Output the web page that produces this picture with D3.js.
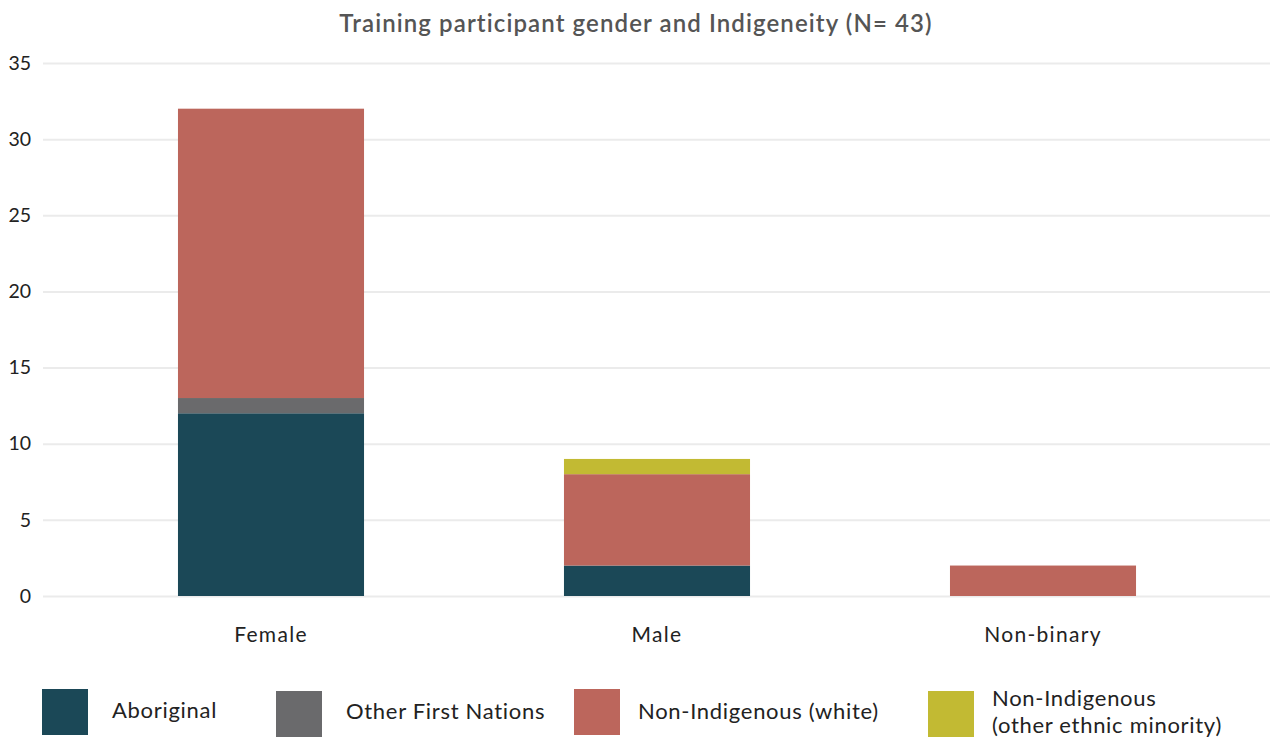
<!DOCTYPE html>
<html><head><meta charset="utf-8">
<script src="https://cdnjs.cloudflare.com/ajax/libs/d3/7.8.5/d3.min.js"></script>
<style>body{margin:0;background:#fff}svg{display:block}text{font-family:Lato,"Noto Sans",sans-serif}</style>
</head><body><svg id="c" width="1273" height="751"></svg>
<script>
const categories = ["Female","Male","Non-binary"];
const seriesNames = ["Aboriginal","Other First Nations","Non-Indigenous (white)","Non-Indigenous (other ethnic minority)"];
const aboriginal = [12,2,0];
const otherFirstNations = [1,0,0];
const nonIndigenousWhite = [19,6,2];
const nonIndigenousOther = [0,1,0];
const yTicks = [0,5,10,15,20,25,30,35];
const colors = ["#1B4857","#6A6A6C","#BC665C","#C2BA33"];
const title = "Training participant gender and Indigeneity (N= 43)";

const svg = d3.select("#c");
const x = d3.scaleBand().domain(categories).range([78,1236]).paddingInner(0.518).paddingOuter(0.259);
const y = d3.scaleLinear().domain([0,35]).range([596,63]);

svg.append("text").attr("x",636).attr("y",32).attr("text-anchor","middle")
  .attr("font-size",24).attr("font-weight",600).attr("letter-spacing",1.1).attr("fill","#555").text(title);

const yAxis = svg.append("g").attr("transform","translate(43,0)")
  .call(d3.axisLeft(y).tickValues(yTicks).tickSize(-1227).tickPadding(12));
yAxis.select(".domain").remove();
yAxis.selectAll(".tick line").attr("stroke","#ebebeb").attr("stroke-width",2);
yAxis.selectAll(".tick text").attr("font-size",19.5).attr("fill","#222").attr("font-family","Lato,'Noto Sans',sans-serif");

const rows = categories.map((c,i)=>({cat:c, s0:aboriginal[i], s1:otherFirstNations[i], s2:nonIndigenousWhite[i], s3:nonIndigenousOther[i]}));
const stack = d3.stack().keys(["s0","s1","s2","s3"])(rows);
stack.forEach((layer,k)=>{
  svg.append("g").selectAll("rect").data(layer.filter(d=>d[1]>d[0])).join("rect")
    .attr("x",d=>x(d.data.cat)).attr("width",x.bandwidth())
    .attr("y",d=>y(d[1])).attr("height",d=>y(d[0])-y(d[1]))
    .attr("fill",colors[k]);
});

const xAxis = svg.append("g").attr("transform","translate(0,596)")
  .call(d3.axisBottom(x).tickSize(0).tickPadding(31));
xAxis.select(".domain").remove();
xAxis.selectAll(".tick text").attr("font-size",21).attr("letter-spacing",1.3).attr("fill","#222").attr("font-family","Lato,'Noto Sans',sans-serif");

const legX = [42,276,574,928];
const legText = [["Aboriginal"],["Other First Nations"],["Non-Indigenous (white)"],["Non-Indigenous","(other ethnic minority)"]];
const lg = svg.append("g");
seriesNames.forEach((n,i)=>{
  lg.append("rect").attr("x",legX[i]).attr("y",i===0||i===2?689:691).attr("width",46).attr("height",46).attr("fill",colors[i]);
  const lines = legText[i];
  const dx = (i===2||i===3)?64:70;
  const t = lg.append("text").attr("x",legX[i]+dx).attr("font-size",22).attr("letter-spacing",0.7).attr("fill","#222");
  if(lines.length===1){
    t.attr("y",i===0?718:719).text(lines[0]);
  } else {
    t.append("tspan").attr("x",legX[i]+dx).attr("y",706).text(lines[0]);
    t.append("tspan").attr("x",legX[i]+dx).attr("y",733).text(lines[1]);
  }
});
</script></body></html>
